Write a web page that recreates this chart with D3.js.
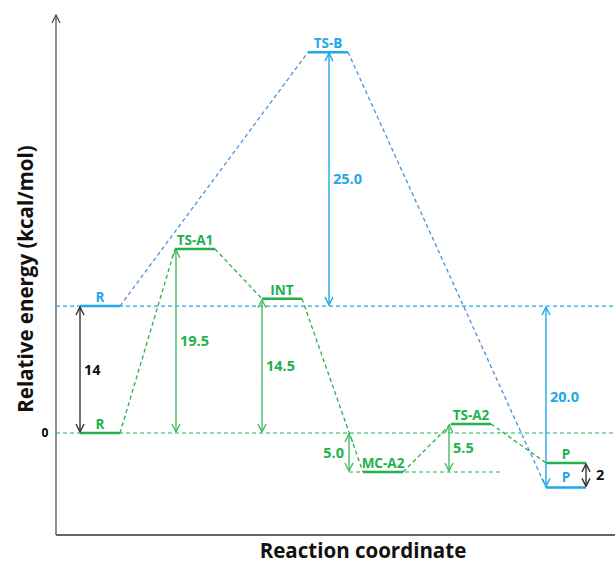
<!DOCTYPE html>
<html lang="en">
<head>
    <meta charset="UTF-8">
    <title>Energy profile</title>
    <script src="https://d3js.org/d3.v7.min.js"></script>
</head>
<body style="margin:0;background:#fff">

<style>
    svg { font-family: "Open Sans", Lato, sans-serif; font-weight: bold; }
</style>

<div id="profile"></div>

<script>
    // level positions (reaction coordinate, drawn energy)
    var blueNames = ["R", "TS-B", "P"];
    var blueX = [1.2, 12.6, 24.5];
    var blueE = [14, 42.0, -6.0];

    var greenNames = ["R", "TS-A1", "INT", "MC-A2", "TS-A2", "P"];
    var greenX = [1.2, 5.95, 10.3, 15.35, 19.75, 24.5];
    var greenE = [0, 20.3, 14.8, -4.3, 1.0, -3.3];

    // energy gaps shown with double arrows
    var gapText = ["14", "19.5", "14.5", "25.0", "5.0", "5.5", "20.0", "2"];
    var gapX = [1.2, 6.0, 10.3, 13.65, 14.65, 19.65, 24.5, 26.5];
    var gapFrom = [0, 0, 0, 14, -4.3, -4.3, -6.0, -6.0];
    var gapTo = [14, 20.3, 14.8, 42.0, 0, 1.0, 14, -3.3];
    var gapColor = ["black", "green", "green", "blue", "green", "green", "blue", "black"];

    var width = 615, height = 564;
    var levelW = 2;

    var colors = {
        blue: "#1fa8ea", blueDash: "#4a90d9",
        green: "#22b14c", greenArrow: "#45bd65",
        black: "#333333"
    };

    var svg = d3.select("#profile").append("svg")
        .attr("width", width)
        .attr("height", height);

    var x = d3.scaleLinear().domain([0, 28]).range([56, 616]);
    var y = d3.scaleLinear().domain([-11.25, 46.1]).range([535, 15]);

    // arrow heads
    var defs = svg.append("defs");
    function marker(id, color) {
        defs.append("marker")
            .attr("id", id)
            .attr("viewBox", "0 0 10 10")
            .attr("refX", 9).attr("refY", 5)
            .attr("markerWidth", 10).attr("markerHeight", 10)
            .attr("markerUnits", "userSpaceOnUse")
            .attr("orient", "auto-start-reverse")
            .append("path")
            .attr("d", "M1,1 L9,5 L1,9")
            .attr("fill", "none")
            .attr("stroke", color)
            .attr("stroke-width", 1.4);
    }
    marker("head-black", colors.black);
    marker("head-blue", colors.blue);
    marker("head-green", colors.greenArrow);
    marker("head-axis", "#555");

    // axes
    svg.append("line")
        .attr("x1", x(0)).attr("x2", x(0))
        .attr("y1", y.range()[0]).attr("y2", y.range()[1])
        .attr("stroke", "#555").attr("stroke-width", 1.3)
        .attr("marker-end", "url(#head-axis)");
    svg.append("line")
        .attr("x1", x(0)).attr("x2", width)
        .attr("y1", y.range()[0]).attr("y2", y.range()[0])
        .attr("stroke", "#666").attr("stroke-width", 2);

    svg.append("text")
        .attr("x", x(0) - 11).attr("y", y(0))
        .attr("dy", "0.35em")
        .attr("text-anchor", "middle")
        .style("font-size", "12px")
        .text("0");

    svg.append("text")
        .attr("transform", "translate(33,279) rotate(-90)")
        .attr("text-anchor", "middle")
        .style("font-size", "20.5px")
        .attr("fill", "#111")
        .text("Relative energy (kcal/mol)");

    svg.append("text")
        .attr("x", 363).attr("y", 558)
        .attr("text-anchor", "middle")
        .style("font-size", "20.5px")
        .attr("fill", "#111")
        .text("Reaction coordinate");

    // reference dashed lines
    var dash = "4,3";
    svg.append("line")
        .attr("x1", x(0)).attr("x2", width)
        .attr("y1", y(blueE[0])).attr("y2", y(blueE[0]))
        .attr("stroke", colors.blue).attr("stroke-width", 1.2)
        .attr("stroke-dasharray", dash);
    svg.append("line")
        .attr("x1", x(0)).attr("x2", width)
        .attr("y1", y(greenE[0])).attr("y2", y(greenE[0]))
        .attr("stroke", colors.green).attr("stroke-width", 1.2)
        .attr("stroke-dasharray", dash);
    svg.append("line")
        .attr("x1", x(14.65)).attr("x2", x(22.2))
        .attr("y1", y(greenE[3])).attr("y2", y(greenE[3]))
        .attr("stroke", colors.green).attr("stroke-width", 1.2)
        .attr("stroke-dasharray", dash);

    // dashed connectors between levels
    function connectors(xs, es, color) {
        var pts = [];
        xs.forEach(function(d, i) {
            if (i > 0) pts.push([x(d), y(es[i])]);
            if (i < xs.length - 1) pts.push([x(d + levelW), y(es[i])]);
        });
        for (var i = 0; i < pts.length; i += 2) {
            svg.append("path")
                .attr("d", d3.line()([pts[i], pts[i + 1]]))
                .attr("fill", "none")
                .attr("stroke", color)
                .attr("stroke-width", 1.3)
                .attr("stroke-dasharray", dash);
        }
    }
    connectors(blueX, blueE, colors.blueDash);
    connectors(greenX, greenE, colors.green);

    // levels
    function levels(names, xs, es, color, cls) {
        svg.selectAll("line." + cls)
            .data(names).enter()
            .append("line")
            .attr("class", cls)
            .attr("x1", function(d, i) { return x(xs[i]); })
            .attr("x2", function(d, i) { return x(xs[i] + levelW); })
            .attr("y1", function(d, i) { return y(es[i]); })
            .attr("y2", function(d, i) { return y(es[i]); })
            .attr("stroke", color)
            .attr("stroke-width", 2.5);
    }
    levels(blueNames, blueX, blueE, colors.blue, "lvl-blue");
    levels(greenNames, greenX, greenE, colors.green, "lvl-green");

    // level labels
    function labels(names, xs, es, color, below) {
        svg.selectAll(null)
            .data(names).enter()
            .append("text")
            .attr("x", function(d, i) { return x(xs[i] + levelW / 2); })
            .attr("y", function(d, i) {
                return below.indexOf(i) >= 0 ? y(es[i]) - 5 : y(es[i]) - 4;
            })
            .attr("text-anchor", "middle")
            .attr("fill", color)
            .style("font-size", "13.5px")
            .text(function(d) { return d; });
    }
    labels(blueNames, blueX, blueE, colors.blue, [2]);
    labels(greenNames, greenX, greenE, colors.green, []);

    // gap arrows
    gapText.forEach(function(t, i) {
        var c = gapColor[i] == "blue" ? colors.blue : gapColor[i] == "green" ? colors.greenArrow : colors.black;
        var id = "head-" + gapColor[i];
        svg.append("line")
            .attr("x1", x(gapX[i])).attr("x2", x(gapX[i]))
            .attr("y1", y(gapFrom[i]) - 1).attr("y2", y(gapTo[i]) + 1)
            .attr("stroke", c).attr("stroke-width", 1.4)
            .attr("marker-start", "url(#" + id + ")")
            .attr("marker-end", "url(#" + id + ")");
        var left = t == "5.0";
        var off = t == "2" ? 10 : 4;
        svg.append("text")
            .attr("x", x(gapX[i]) + (left ? -5 : off))
            .attr("y", (y(gapFrom[i]) + y(gapTo[i])) / 2)
            .attr("dy", "0.35em")
            .attr("text-anchor", left ? "end" : "start")
            .attr("fill", gapColor[i] == "black" ? "#111" : (gapColor[i] == "blue" ? colors.blue : colors.green))
            .style("font-size", "14.5px")
            .text(t);
    });
</script>

</body>
</html>
